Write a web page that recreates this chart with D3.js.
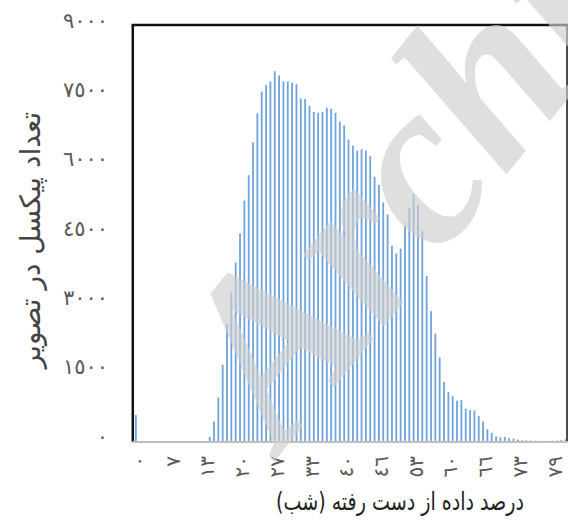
<!DOCTYPE html>
<html>
<head>
<meta charset="utf-8">
<script src="https://cdn.jsdelivr.net/npm/d3@7"></script>
<style>
html,body{margin:0;padding:0;background:#fff;}
svg{display:block;}
</style>
</head>
<body>
<svg id="chart" width="568" height="526"></svg>
<script>
// ---- data ----
const pixelCounts = [
  560, 0, 0, 0, 0, 0, 0, 0, 0, 0,
  0, 0, 0, 0, 0, 0, 0, 90, 420, 940,
  1650, 2540, 3210, 3860, 4490, 5200, 5750, 6460, 7090, 7560,
  7700, 7780, 8000, 7910, 7780, 7780, 7750, 7720, 7410, 7400,
  7250, 7120, 7100, 7120, 7210, 7190, 7100, 6910, 6830, 6520,
  6390, 6280, 6310, 6280, 6160, 5720, 5540, 5160, 4900, 4220,
  4060, 4160, 4670, 5050, 5340, 5110, 4540, 3570, 2810, 2320,
  1810, 1280, 1060, 970, 870, 885, 700, 670, 660, 540,
  420, 255, 175, 100, 80, 85, 60, 50, 30, 15,
  15, 10, 5, 5, 5, 5, 5, 10, 20, 35
];
const categories = pixelCounts.map((_, i) => i);
const xTickIndex = [0, 8, 16, 24, 32, 40, 48, 56, 64, 72, 80, 88, 96];
const xTickLabels = ["٠", "٧", "١٣", "٢٠", "٢٧", "٣٣", "٤٠", "٤٦", "٥٣", "٦٠", "٦٦", "٧٣", "٧٩"];
const yTicks = [0, 1500, 3000, 4500, 6000, 7500, 9000];
const yTickLabels = ["٠", "١٥٠٠", "٣٠٠٠", "٤٥٠٠", "٦٠٠٠", "٧٥٠٠", "٩٠٠٠"];
const xTitle = "درصد داده از دست رفته (شب)";
const yTitle = "تعداد پیکسل در تصویر";

// ---- layout ----
const svg = d3.select("#chart");
const pLeft = 133.8, pRight = 567.8, pTop = 25, pBottom = 441;

const x = d3.scaleBand().domain(categories).range([pLeft, pRight]).padding(0);
const y = d3.scaleLinear().domain([0, 9000]).range([pBottom, pTop]);

// bars
svg.append("g").selectAll("rect")
  .data(pixelCounts)
  .join("rect")
  .attr("x", (d, i) => x(categories[i]) + x.bandwidth() / 2 - 1)
  .attr("width", 1.8)
  .attr("y", d => y(d))
  .attr("height", d => pBottom - y(d))
  .attr("fill", "#6fa3dc");

// frame
svg.append("line").attr("x1", pLeft - 1).attr("x2", pLeft - 1).attr("y1", pTop).attr("y2", pBottom + 1)
  .attr("stroke", "#111").attr("stroke-width", 2.5);
svg.append("line").attr("x1", pLeft - 2.2).attr("x2", 568).attr("y1", pTop).attr("y2", pTop)
  .attr("stroke", "#111").attr("stroke-width", 2.5);
svg.append("line").attr("x1", 567).attr("x2", 567).attr("y1", pTop).attr("y2", pBottom)
  .attr("stroke", "#111").attr("stroke-width", 1.5);
svg.append("line").attr("x1", pLeft - 2).attr("x2", 568).attr("y1", pBottom + 1).attr("y2", pBottom + 1)
  .attr("stroke", "#bfbfbf").attr("stroke-width", 2);

// y axis labels
const yAxis = d3.axisLeft(y).tickValues(yTicks).tickSize(0)
  .tickFormat((d, i) => yTickLabels[i]);
const gy = svg.append("g").attr("transform", "translate(108,0)").call(yAxis);
gy.select(".domain").remove();
gy.selectAll("text").attr("x", 0).attr("dy", "0.1em")
  .attr("fill", "#595959").style("font-size", "21px")
  .style("font-family", "'DejaVu Sans', sans-serif");

// x axis labels (rotated)
const xAxis = d3.axisBottom(x).tickValues(xTickIndex).tickSize(0)
  .tickFormat(d => xTickLabels[xTickIndex.indexOf(d)]);
const gx = svg.append("g").attr("transform", `translate(0,${pBottom})`).call(xAxis);
gx.select(".domain").remove();
gx.selectAll("text")
  .attr("transform", "rotate(-90)")
  .attr("x", -15).attr("y", 0).attr("dy", "0.45em")
  .style("text-anchor", "end")
  .attr("fill", "#595959").style("font-size", "20px")
  .style("font-family", "'DejaVu Sans', sans-serif");

// titles
svg.append("text").attr("x", 400).attr("y", 510)
  .attr("direction", "rtl").attr("text-anchor", "middle")
  .attr("textLength", 248).attr("lengthAdjust", "spacingAndGlyphs")
  .style("font-size", "25px").style("font-family", "'DejaVu Sans', serif")
  .attr("fill", "#222").text(xTitle);
svg.append("text").attr("transform", "translate(40,240) rotate(-90)")
  .attr("direction", "rtl").attr("text-anchor", "middle")
  .style("font-size", "28px").style("font-family", "'DejaVu Sans', serif")
  .attr("fill", "#444").text(yTitle);

// watermark
svg.append("text").attr("transform", "translate(282,452) rotate(-51)")
  .style("font-size", "235px").style("font-family", "'Liberation Serif', serif")
  .style("font-weight", "bold").style("font-style", "italic")
  .attr("fill", "#cfcfcf").attr("opacity", 0.65).text("Archive");
</script>
</body>
</html>
